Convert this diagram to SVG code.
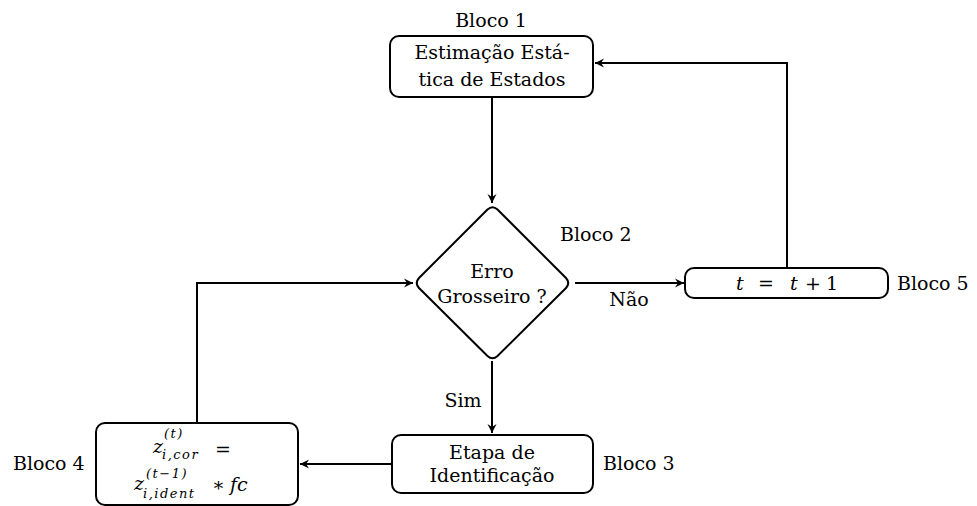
<svg xmlns="http://www.w3.org/2000/svg" width="977" height="506" viewBox="0 0 977 506">
  <style>
    text { font-family: "DejaVu Serif", "Liberation Serif", serif; font-size: 19px; fill: #000; }
    .c { text-anchor: middle; }
    .m { font-style: italic; }
    .s { font-size: 13px; font-style: italic; letter-spacing: 1.5px; }
    .box { fill: #fff; stroke: #000; stroke-width: 2; }
    .wire { fill: none; stroke: #000; stroke-width: 2; }
  </style>
  <defs>
    <marker id="arrow" markerUnits="userSpaceOnUse" markerWidth="12" markerHeight="12" viewBox="-10 -6 12 12" refX="0" refY="0" orient="auto">
      <path d="M0,0 L-9,-4.5 L-6,0 L-9,4.5 Z" fill="#000"/>
    </marker>
  </defs>
  <rect width="977" height="506" fill="#fff"/>

  <!-- connectors -->
  <g id="connectors">
    <line class="wire" x1="492" y1="97" x2="492" y2="203" marker-end="url(#arrow)"/>
    <line class="wire" x1="575" y1="283" x2="684" y2="283" marker-end="url(#arrow)"/>
    <polyline class="wire" points="787,268 787,63 595,63" marker-end="url(#arrow)"/>
    <line class="wire" x1="492" y1="361" x2="492" y2="433" marker-end="url(#arrow)"/>
    <line class="wire" x1="392" y1="464" x2="300" y2="464" marker-end="url(#arrow)"/>
    <polyline class="wire" points="197,423 197,283 413,283" marker-end="url(#arrow)"/>
    <text class="c" x="629" y="306">Não</text>
    <text class="c" x="463" y="407">Sim</text>
  </g>

  <!-- Bloco 1 -->
  <g id="bloco1">
    <rect class="box" x="390" y="36" width="203" height="61" rx="9"/>
    <text class="c" x="491" y="27">Bloco 1</text>
    <text class="c" x="492" y="59">Estimação Está-</text>
    <text class="c" x="492" y="86">tica de Estados</text>
  </g>

  <!-- Bloco 2 -->
  <g id="bloco2">
    <path class="box" d="M487.5,209.5 Q492.5,205 497.5,209.5 L566,278 Q570.5,283 566,288 L497.5,356 Q492.5,360.5 487.5,356 L419,288 Q414.5,283 419,278 Z"/>
    <text x="560" y="241">Bloco 2</text>
    <text class="c" x="492" y="278">Erro</text>
    <text class="c" x="492" y="303">Grosseiro ?</text>
  </g>

  <!-- Bloco 5 -->
  <g id="bloco5">
    <rect class="box" x="685" y="268" width="203" height="30" rx="9"/>
    <text class="m" x="736" y="290">t</text>
    <text x="758" y="290">=</text>
    <text class="m" x="790" y="290">t</text>
    <text x="805" y="290">+</text>
    <text x="826" y="290">1</text>
    <text x="897" y="290">Bloco 5</text>
  </g>

  <!-- Bloco 3 -->
  <g id="bloco3">
    <rect class="box" x="392" y="435" width="201" height="58" rx="9"/>
    <text class="c" x="492" y="459">Etapa de</text>
    <text class="c" x="492" y="482">Identificação</text>
    <text x="603" y="470">Bloco 3</text>
  </g>

  <!-- Bloco 4: z_cor = z_ident * fc -->
  <g id="bloco4">
    <rect class="box" x="96" y="423" width="202" height="82" rx="9"/>
    <text x="13" y="470">Bloco 4</text>
    <text class="m" x="153" y="453">z</text>
    <text class="s" x="164" y="438">(t)</text>
    <text class="s" x="162" y="459">i,cor</text>
    <text x="215" y="456">=</text>
    <text class="m" x="134" y="490">z</text>
    <text class="s" x="146" y="478">(t−1)</text>
    <text class="s" x="143" y="498">i,ident</text>
    <text x="212" y="491">∗</text>
    <text class="m" x="230" y="491">fc</text>
  </g>
</svg>
